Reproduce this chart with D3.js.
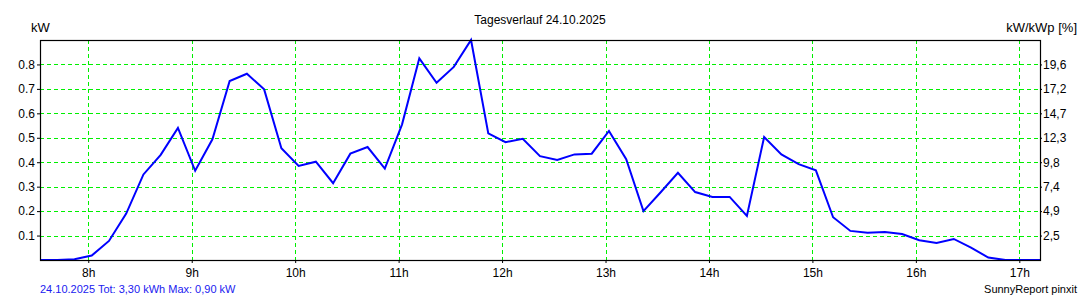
<!DOCTYPE html>
<html>
<head>
<meta charset="utf-8">
<script src="https://cdn.jsdelivr.net/npm/d3@7"></script>
<style>
  body { margin: 0; background: #fff; }
  text { font-family: "Liberation Sans", Arial, sans-serif; fill: #000; }
  .axis path { display: none; }
  .axis line { stroke: #000; }
  .grid line { stroke: #00f000; stroke-width: 1; stroke-dasharray: 4,3; shape-rendering: crispEdges; }
</style>
</head>
<body>
<div id="chart"></div>
<script>
// 10 minute readings for the day
var times = ["7:32","7:42","7:52","8:02","8:12","8:22","8:32","8:42","8:52","9:02",
             "9:12","9:22","9:32","9:42","9:52","10:02","10:12","10:22","10:32","10:42",
             "10:52","11:02","11:12","11:22","11:32","11:42","11:52","12:02","12:12","12:22",
             "12:32","12:42","12:52","13:02","13:12","13:22","13:32","13:42","13:52","14:02",
             "14:12","14:22","14:32","14:42","14:52","15:02","15:12","15:22","15:32","15:42",
             "15:52","16:02","16:12","16:22","16:32","16:42","16:52","17:02","17:12"];

var power = [0, 0, 0.003, 0.018, 0.078, 0.19, 0.35, 0.43, 0.54, 0.365,
             0.494, 0.732, 0.762, 0.698, 0.457, 0.385, 0.402, 0.314, 0.435, 0.462,
             0.374, 0.555, 0.825, 0.725, 0.79, 0.90, 0.518, 0.482, 0.496, 0.425,
             0.409, 0.432, 0.435, 0.528, 0.412, 0.20, 0.277, 0.357, 0.278, 0.258,
             0.258, 0.18, 0.503, 0.432, 0.392, 0.367, 0.175, 0.119, 0.111, 0.115,
             0.106, 0.081, 0.070, 0.086, 0.051, 0.01, 0, 0, 0];

var hours = [8, 9, 10, 11, 12, 13, 14, 15, 16, 17];
var kwTicks = [0.1, 0.2, 0.3, 0.4, 0.5, 0.6, 0.7, 0.8];
var pctLabels = ["2,5", "4,9", "7,4", "9,8", "12,3", "14,7", "17,2", "19,6"];

var title = "Tagesverlauf 24.10.2025";
var summary = "24.10.2025 Tot: 3,30 kWh Max: 0,90 kW";
var credit = "SunnyReport pinxit";

var margin = {top: 40, right: 40, bottom: 40, left: 40};
var width = 1080 - margin.left - margin.right;
var height = 300 - margin.top - margin.bottom;

var svg = d3.select("#chart")
            .append("svg")
              .attr("width", 1080)
              .attr("height", 300);

var chart = svg.append("g")
               .attr("transform", "translate(" + margin.left + "," + margin.top + ")");

// minutes since midnight
function toMinutes(t) {
  var p = t.split(":");
  return +p[0] * 60 + +p[1];
}

var data = times.map(function(t, i) {
  return {minute: toMinutes(t), kw: power[i]};
});

// scales
var xScale = d3.scaleLinear()
               .domain([data[0].minute, data[data.length - 1].minute])
               .range([0, width]);

var yScale = d3.scaleLinear()
               .domain([0, 0.9])
               .range([height, 0]);

// grid
chart.append("g")
     .attr("class", "grid")
     .selectAll("line.h")
     .data(kwTicks)
     .enter()
    .append("line")
     .attr("x1", 0)
     .attr("x2", width)
     .attr("y1", function(d) { return Math.round(yScale(d)) + 0.5; })
     .attr("y2", function(d) { return Math.round(yScale(d)) + 0.5; });

chart.select(".grid")
     .selectAll("line.v")
     .data(hours)
     .enter()
    .append("line")
     .attr("class", "v")
     .attr("y1", 0)
     .attr("y2", height)
     .attr("x1", function(d) { return Math.round(xScale(d * 60)) + 0.5; })
     .attr("x2", function(d) { return Math.round(xScale(d * 60)) + 0.5; });

// axes
var xAxis = d3.axisBottom(xScale)
              .tickValues(hours.map(function(h) { return h * 60; }))
              .tickFormat(function(d) { return (d / 60) + "h"; })
              .tickSize(3)
              .tickPadding(5);

var yAxis = d3.axisLeft(yScale)
              .tickValues(kwTicks)
              .tickFormat(d3.format(".1f"))
              .tickSize(3)
              .tickPadding(2);

var yAxisRight = d3.axisRight(yScale)
                   .tickValues(kwTicks)
                   .tickFormat(function(d, i) { return pctLabels[i]; })
                   .tickSize(2)
                   .tickPadding(1);

chart.append("g")
     .attr("class", "axis x-axis")
     .attr("transform", "translate(0," + height + ")")
     .call(xAxis)
     .selectAll("text")
      .style("font-size", "12px");

chart.append("g")
     .attr("class", "axis y-axis")
     .call(yAxis)
     .selectAll("text")
      .style("font-size", "12px");

chart.append("g")
     .attr("class", "axis y-axis-right")
     .attr("transform", "translate(" + width + ",0)")
     .call(yAxisRight)
     .selectAll("text")
      .style("font-size", "12px");

d3.selectAll(".axis .tick text").attr("fill", "#000");

// line
var line = d3.line()
             .x(function(d) { return xScale(d.minute); })
             .y(function(d) { return yScale(d.kw); });

chart.append("path")
     .datum(data)
     .attr("fill", "none")
     .attr("stroke", "#0000ff")
     .attr("stroke-width", 2)
     .attr("stroke-linejoin", "miter")
     .attr("d", line);

// frame
chart.append("rect")
     .attr("x", 0.5)
     .attr("y", 0.5)
     .attr("width", width)
     .attr("height", height)
     .attr("fill", "none")
     .attr("stroke", "#000")
     .attr("stroke-width", 1.2);

// texts
svg.append("text")
   .attr("x", 540)
   .attr("y", 24)
   .attr("text-anchor", "middle")
   .style("font-size", "12px")
   .text(title);

svg.append("text")
   .attr("x", 31)
   .attr("y", 32)
   .style("font-size", "13px")
   .text("kW");

svg.append("text")
   .attr("x", 1077)
   .attr("y", 32)
   .attr("text-anchor", "end")
   .style("font-size", "13px")
   .text("kW/kWp [%]");

svg.append("text")
   .attr("x", 40)
   .attr("y", 293)
   .style("font-size", "11px")
   .style("fill", "#2020f0")
   .text(summary);

svg.append("text")
   .attr("x", 1077)
   .attr("y", 293)
   .attr("text-anchor", "end")
   .style("font-size", "11px")
   .text(credit);
</script>
</body>
</html>
